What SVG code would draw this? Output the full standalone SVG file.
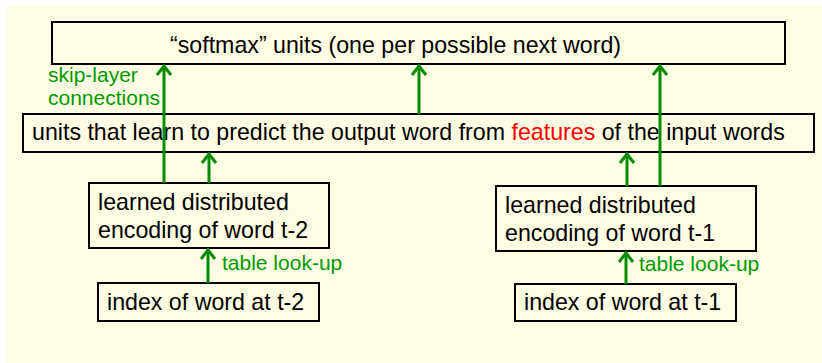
<svg xmlns="http://www.w3.org/2000/svg" width="822" height="363" viewBox="0 0 822 363">
<defs>
<style>
.box{fill:#fffde3;stroke:#000;stroke-width:2}
.t{font-family:"Liberation Sans",Arial,sans-serif;font-size:23.2px;fill:#000}
.g{font-family:"Liberation Sans",Arial,sans-serif;font-size:21px;fill:#009a00}
.c{stroke:#008c00;stroke-width:3;fill:none;marker-end:url(#ah)}
</style>
<marker id="ah" markerUnits="userSpaceOnUse" markerWidth="20" markerHeight="20" refX="0" refY="0" viewBox="-12 -10 14 20" orient="auto">
<path d="M-9,-7 L0,0 L-9,7" fill="none" stroke="#008c00" stroke-width="3"/>
</marker>
</defs>
<rect x="0" y="0" width="822" height="363" fill="#ffffff"/>
<rect x="7" y="6" width="815" height="357" fill="#fffde3"/>
<g id="softmax">
<rect class="box" x="52" y="22" width="733" height="42"/>
<text class="t" x="170" y="53">“softmax” units (one per possible next word)</text>
</g>
<g id="hidden">
<rect class="box" x="23" y="114" width="791" height="38"/>
<text class="t" x="32" y="140">units that learn to predict the output word from <tspan fill="#ff0000">features</tspan> of the input words</text>
</g>
<g id="enc2">
<rect class="box" x="89" y="183" width="240" height="65"/>
<text class="t" x="98" y="210">learned distributed</text>
<text class="t" x="98" y="238">encoding of word t-2</text>
</g>
<g id="enc1">
<rect class="box" x="496" y="186" width="260" height="65"/>
<text class="t" x="505" y="213">learned distributed</text>
<text class="t" x="505" y="241">encoding of word t-1</text>
</g>
<g id="idx2">
<rect class="box" x="98" y="283" width="221" height="38"/>
<text class="t" x="107" y="310">index of word at t-2</text>
</g>
<g id="idx1">
<rect class="box" x="515" y="284" width="221" height="37"/>
<text class="t" x="524" y="310">index of word at t-1</text>
</g>
<g id="labels">
<text class="g" x="48" y="82">skip-layer</text>
<text class="g" x="48" y="105">connections</text>
<text class="g" x="222" y="270">table look-up</text>
<text class="g" x="639" y="271">table look-up</text>
</g>
<g id="connectors">
<line class="c" x1="208" y1="283" x2="208" y2="250"/>
<line class="c" x1="626" y1="284" x2="626" y2="253"/>
<line class="c" x1="164" y1="183" x2="164" y2="66"/>
<line class="c" x1="209" y1="183" x2="209" y2="154"/>
<line class="c" x1="419" y1="114" x2="419" y2="66"/>
<line class="c" x1="627" y1="186" x2="627" y2="154"/>
<line class="c" x1="660" y1="186" x2="660" y2="66"/>
</g>
</svg>
